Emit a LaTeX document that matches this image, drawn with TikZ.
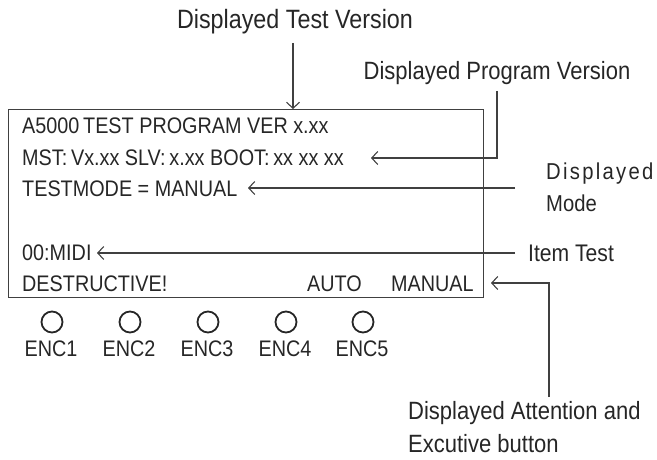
\documentclass[tikz,border=0pt]{standalone}
\usepackage{fontspec}
\setmainfont[FakeStretch=0.88]{Liberation Sans}
\usetikzlibrary{arrows.meta}
\tikzset{
  lbl/.style={font=\fontsize{25}{29}\selectfont, inner sep=0pt, text=black!85},
  lcdtxt/.style={font=\fontsize{22.5}{26}\selectfont, inner sep=0pt, anchor=west, text=black!85},
  wire/.style={line width=1.1pt, draw=black!75},
  arr/.style={wire, -{Straight Barb[length=6pt,width=13pt]}},
  knob/.style={circle, draw=black!85, line width=1.8pt, minimum size=21pt, inner sep=0pt},
  enc/.style={font=\fontsize{22.5}{26}\selectfont, inner sep=0pt, text=black!85}
}
\begin{document}
\begin{tikzpicture}[x=1pt,y=-1pt]
\useasboundingbox (0,0) rectangle (657,460);
% LCD box
\node[draw=black!75, line width=1.1pt, minimum width=475pt, minimum height=188pt, inner sep=0pt, anchor=north west] (lcd) at (8,109) {};
% LCD text
\node[lcdtxt] (l1) at (22,126) {A5000\,TEST PROGRAM VER x.xx};
\node[lcdtxt] (l2) at (22,158) {MST:\,Vx.xx SLV:\,x.xx BOOT:\,xx xx xx};
\node[lcdtxt] (l3) at (22,189) {TESTMODE = MANUAL};
\node[lcdtxt] (l4) at (22,253) {00:MIDI};
\node[lcdtxt] (l5) at (22,284) {DESTRUCTIVE!};
\node[lcdtxt] (l6) at (307,284) {AUTO};
\node[lcdtxt] (l7) at (391,284) {MANUAL};
% knobs
\foreach \i/\x in {1/52,2/130,3/208,4/286,5/363}{
  \node[knob] (k\i) at (\x,322) {};
  \node[enc] (e\i) at (\x-1,349) {ENC\i};
}
% labels
\node[lbl, font=\fontsize{26.5}{30}\selectfont] (tv) at (295,22) {Displayed Test Version};
\node[lbl] (pv) at (497,73) {Displayed Program Version};
\node[lbl, font=\fontsize{23}{27}\selectfont, anchor=west] (dm1) at (546,174) {\addfontfeatures{LetterSpace=10}Displayed};
\node[lbl, font=\fontsize{23}{27}\selectfont, anchor=west] (dm2) at (546,203) {Mode};
\node[lbl, font=\fontsize{24}{28}\selectfont, anchor=west] (it) at (528,253) {Item Test};
\node[lbl, anchor=west] (at1) at (408,413) {Displayed Attention and};
\node[lbl, anchor=west] (at2) at (408,444) {Excutive button};
% connector end points
\coordinate (tvs) at (293,43);
\coordinate (pvs) at (497,91);
\coordinate (mst) at (371,158);
\coordinate (dms) at (515,188);
\coordinate (mode) at (248,188);
\coordinate (its) at (515,253);
\coordinate (item) at (97,253);
\coordinate (ats) at (549,397);
\coordinate (att) at (491,283);
% connectors
\draw[arr] (tvs) -- (tvs |- lcd.north);
\draw[arr] (pvs) |- (mst);
\draw[arr] (dms) -- (mode);
\draw[arr] (its) -- (item);
\draw[arr] (ats) |- (att);
\end{tikzpicture}
\end{document}
